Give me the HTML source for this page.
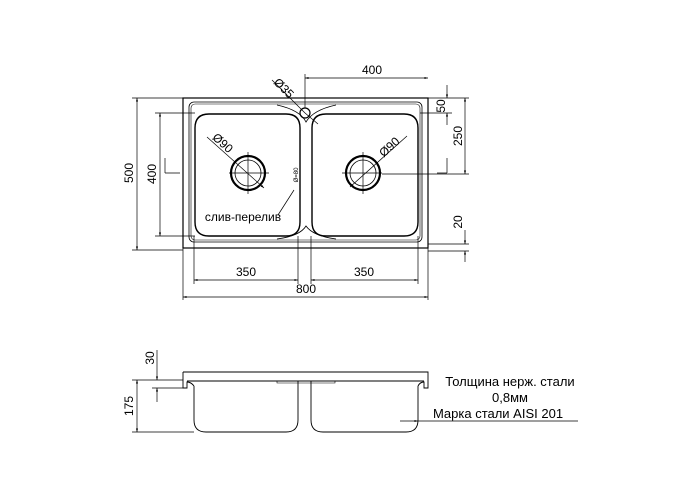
<!DOCTYPE html>
<html><head><meta charset="utf-8"><style>body{margin:0;background:#fff}svg{display:block}</style></head><body>
<svg width="700" height="500" viewBox="0 0 700 500" xmlns="http://www.w3.org/2000/svg" font-family="Liberation Sans, sans-serif" fill="none" stroke="#000">
<defs><marker id="a" viewBox="0 0 10 10" refX="10" refY="5" markerWidth="7" markerHeight="5" orient="auto-start-reverse"><path d="M0 2 L10 5 L0 8z" fill="#000" stroke="none"/></marker></defs>
<rect x="183" y="98" width="245" height="150" stroke-width="1.2"/>
<rect x="189" y="102" width="233" height="140" rx="5" stroke-width="0.8"/>
<rect x="191" y="104" width="229" height="136" rx="4" stroke-width="0.6"/>
<path d="M195 128 Q195 114 209 114 L286 114 Q300 114 300 128 L300 222 Q300 236 286 236 L209 236 Q195 236 195 222 Z" stroke-width="1.4"/>
<path d="M312 128 Q312 114 326 114 L404 114 Q418 114 418 128 L418 222 Q418 236 404 236 L326 236 Q312 236 312 222 Z" stroke-width="1.4"/>
<path d="M277 105 Q300 110 306 122 Q313 110 336 105" stroke-width="0.8"/>
<path d="M277 239 Q300 236 306 226 Q313 236 336 239" stroke-width="0.8"/>
<circle cx="305" cy="113" r="5" stroke-width="1.2"/>
<circle cx="248" cy="173" r="17" stroke-width="2.2"/><circle cx="248" cy="173" r="13" stroke-width="0.8"/>
<circle cx="363" cy="173" r="17" stroke-width="2.2"/><circle cx="363" cy="173" r="13" stroke-width="0.8"/>
<g stroke-width="0.7">
<path d="M229 173h40M248 152v42M342 173h40M363 152v42"/>
<path d="M207 137 L264 188" marker-end="url(#a)"/><path d="M407 136 L350 187" marker-end="url(#a)"/>
<path d="M272 80 L305 113"/><path d="M305 113 L318 124"/>
<path d="M278 215 L294 190"/>
<path d="M305 108 V74 M428 98 V300 M183 248 V300 M194 236 V284 M298 236 V284 M311 236 V284 M418 236 V284"/>
<path d="M305 78 H428" marker-start="url(#a)" marker-end="url(#a)"/>
<path d="M183 98 H132 M183 250 H132 M195 113 H155 M195 236 H155"/>
<path d="M137 98 V250" marker-start="url(#a)" marker-end="url(#a)"/>
<path d="M160 113 V236" marker-start="url(#a)" marker-end="url(#a)"/>
<path d="M165 158 V173 M165 173 H180"/>
<path d="M194 280 H298" marker-start="url(#a)" marker-end="url(#a)"/>
<path d="M311 280 H418" marker-start="url(#a)" marker-end="url(#a)"/>
<path d="M183 297 H428" marker-start="url(#a)" marker-end="url(#a)"/>
<path d="M428 98 H469 M420 113 H452 M382 174 H469 M428 244 H469 M428 251 H469"/>
<path d="M447 85 V98" marker-end="url(#a)"/><path d="M447 125 V113" marker-end="url(#a)"/>
<path d="M447 158 V173 M437 173 H447"/>
<path d="M465 98 V174" marker-start="url(#a)" marker-end="url(#a)"/>
<path d="M465 230 V244" marker-end="url(#a)"/><path d="M465 262 V251" marker-end="url(#a)"/>
</g>
<g fill="#000" stroke="none" font-size="12">
<text x="372" y="74" text-anchor="middle">400</text>
<text x="246" y="276" text-anchor="middle">350</text>
<text x="364" y="276" text-anchor="middle">350</text>
<text x="306" y="293" text-anchor="middle">800</text>
<text transform="translate(133,173) rotate(-90)" text-anchor="middle">500</text>
<text transform="translate(156,174) rotate(-90)" text-anchor="middle">400</text>
<text transform="translate(445,106) rotate(-90)" text-anchor="middle">50</text>
<text transform="translate(462,136) rotate(-90)" text-anchor="middle">250</text>
<text transform="translate(462,222) rotate(-90)" text-anchor="middle">20</text>
<text transform="translate(281,91) rotate(45)" text-anchor="middle">Ø35</text>
<text transform="translate(220,146) rotate(42)" text-anchor="middle">Ø90</text>
<text transform="translate(392,150) rotate(-42)" text-anchor="middle">Ø90</text>
<text x="243" y="221" text-anchor="middle" font-size="12">слив-перелив</text>
<text transform="translate(298,175) rotate(-90)" text-anchor="middle" font-size="6">Ø=80</text>
</g>
<g stroke-width="0.9">
<path d="M183 372 H428 V388 H424 V382 Q420 382 418 386 M183 372 V388 H187 V382 Q191 382 194 386"/>
<path d="M187 381 H424"/>
<path d="M194 386 V420 Q194 432 206 432 H286 Q298 432 298 420 V381 M311 381 V420 Q311 432 323 432 H406 Q418 432 418 420 V386"/>
<path d="M277 381 V383 H335 V381" stroke-width="0.6"/>
</g>
<g stroke-width="0.7">
<path d="M183 380 H132 M183 388 H152 M194 432 H132 M418 421 H578"/>
<path d="M157 350 V380" marker-end="url(#a)"/><path d="M157 402 V388" marker-end="url(#a)"/>
<path d="M137 380 V432" marker-start="url(#a)" marker-end="url(#a)"/>
<path d="M400 421 H418" marker-end="url(#a)"/>
</g>
<g fill="#000" stroke="none" font-size="13">
<text transform="translate(154,358) rotate(-90)" text-anchor="middle" font-size="12">30</text>
<text transform="translate(133,406) rotate(-90)" text-anchor="middle" font-size="12">175</text>
<text x="510" y="386" text-anchor="middle">Толщина нерж. стали</text>
<text x="510" y="402" text-anchor="middle">0,8мм</text>
<text x="498" y="418" text-anchor="middle">Марка стали AISI 201</text>
</g>
</svg>
</body></html>
